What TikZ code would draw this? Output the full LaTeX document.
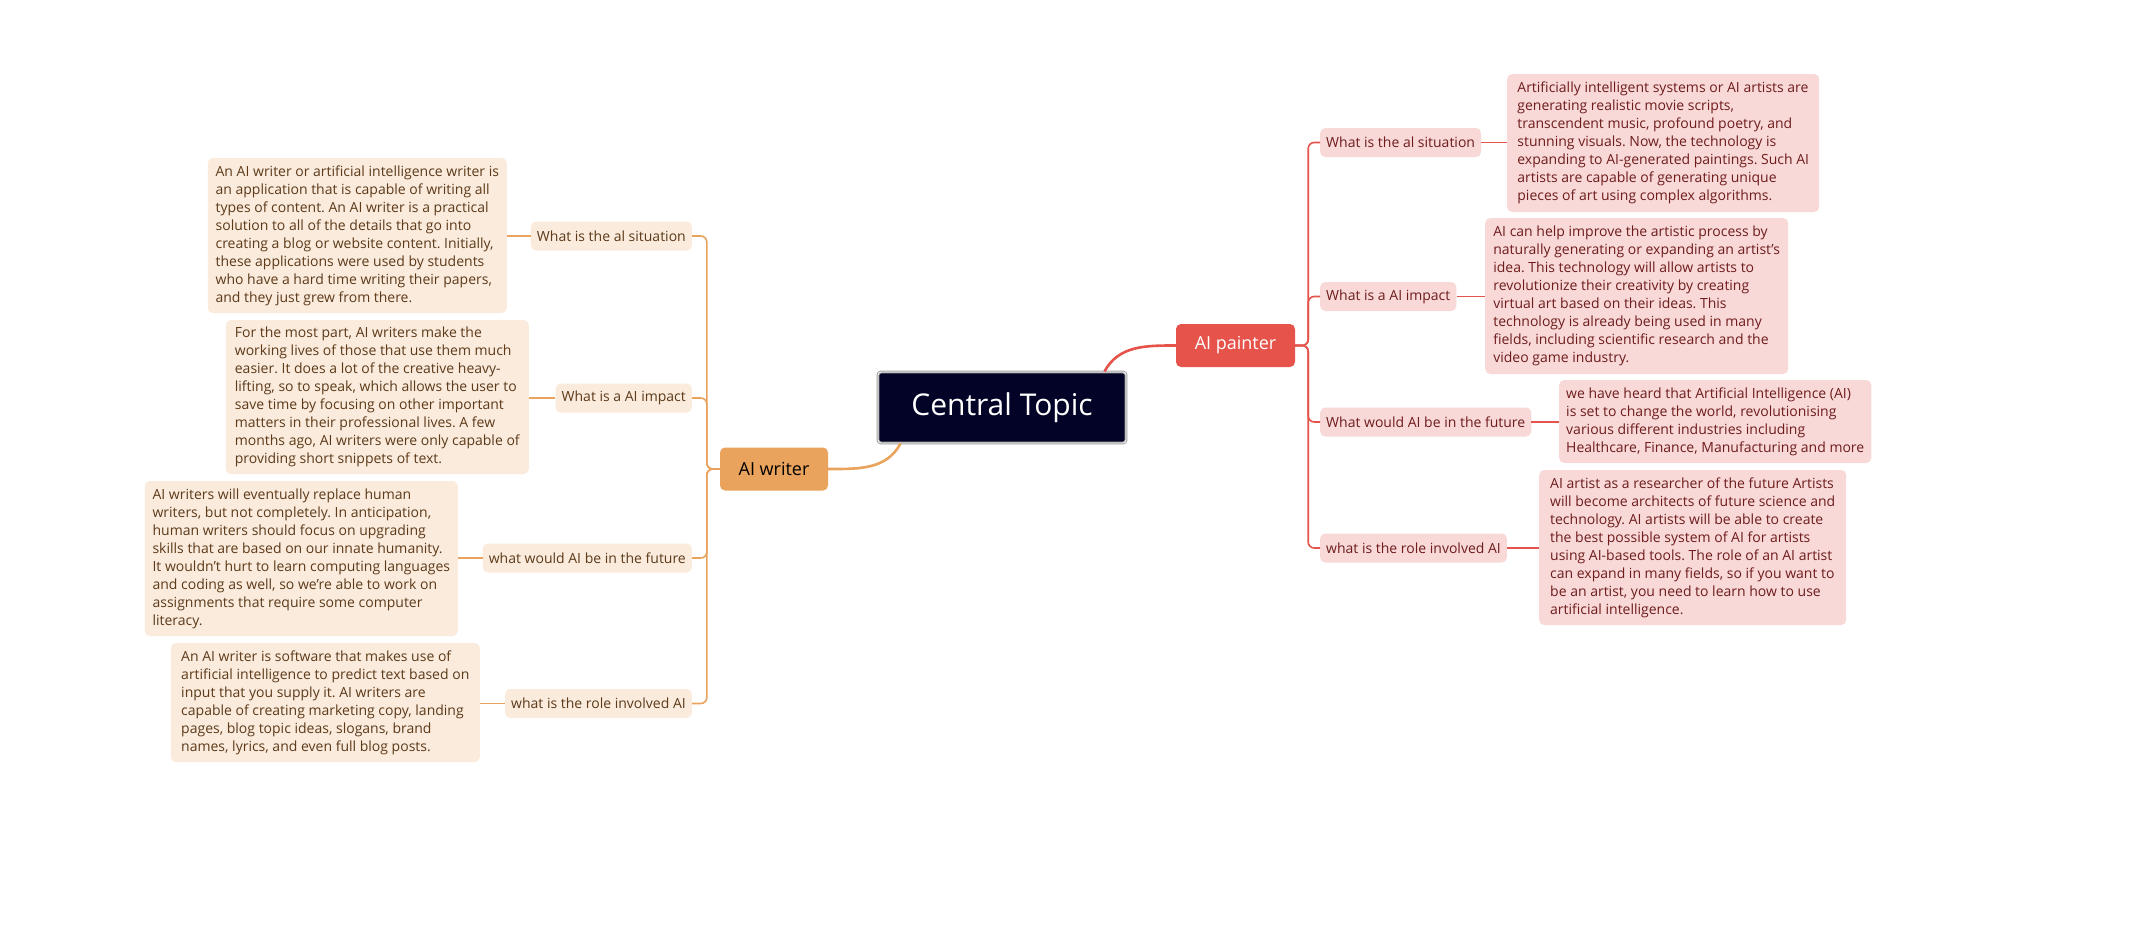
\documentclass[tikz,border=0pt]{standalone}
\usepackage{fontspec}
\setmainfont{Open Sans}
\frenchspacing
\usetikzlibrary{calc}
\definecolor{navy}{HTML}{020326}
\definecolor{orangeM}{HTML}{EAA35C}
\definecolor{redM}{HTML}{E5534B}
\definecolor{lfill}{HTML}{FBEBDC}
\definecolor{rfill}{HTML}{F8D9D8}
\definecolor{ltext}{HTML}{5C3A1A}
\definecolor{rtext}{HTML}{6E1C1C}
\tikzset{
  lsub/.style={fill=lfill, text=ltext, rounded corners=5pt, inner xsep=6pt, inner ysep=0pt, minimum height=29pt, anchor=east, font=\fontsize{14}{17}\selectfont},
  rsub/.style={fill=rfill, text=rtext, rounded corners=5pt, inner xsep=6pt, inner ysep=0pt, minimum height=29pt, anchor=west, font=\fontsize{14}{17}\selectfont},
  ltxt/.style={fill=lfill, text=ltext, rounded corners=5pt, align=left, inner xsep=7pt, inner ysep=5pt, anchor=east, font=\fontsize{14}{18}\selectfont},
  rtxt/.style={fill=rfill, text=rtext, rounded corners=5pt, align=left, inner xsep=7pt, inner ysep=5pt, anchor=west, font=\fontsize{14}{18}\selectfont},
  lconn/.style={draw=orangeM, line width=1.6pt, rounded corners=6pt},
  rconn/.style={draw=redM, line width=1.6pt, rounded corners=6pt},
  mainconn/.style={line width=2.6pt},
}
\begin{document}
\begin{tikzpicture}[x=1pt,y=-1pt]
\useasboundingbox (0,0) rectangle (2150,926);
\fill[white] (0,0) rectangle (2150,926);

% central
\node[fill=navy, draw=gray!75, double=white, double distance=0.8pt, line width=1pt, rounded corners=3pt,
      minimum width=248pt, minimum height=71pt, text=white, font=\fontsize{30}{36}\selectfont] (ct) at (1002,407.5) {Central Topic};

% main branches
\node[fill=redM, rounded corners=5pt, minimum width=119pt, minimum height=43pt, text=white, font=\fontsize{18}{22}\selectfont] (aip) at (1235.5,345.5) {AI painter};
\node[fill=orangeM, rounded corners=5pt, minimum width=108pt, minimum height=43pt, text=black, font=\fontsize{18}{22}\selectfont] (aiw) at (774,469) {AI writer};

\draw[redM, mainconn] ([xshift=-22pt]ct.north east) to[out=62, in=180] (aip.west);
\draw[orangeM, mainconn] ([xshift=23pt]ct.south west) to[out=242, in=0] (aiw.east);

% left subtopics
\node[lsub] (l1) at (692,236) {What is the al situation};
\node[lsub] (l2) at (692,398) {What is a AI impact};
\node[lsub] (l3) at (692,558) {what would AI be in the future};
\node[lsub] (l4) at (692,703.5) {what is the role involved AI};

% right subtopics
\node[rsub] (r1) at (1320,142.5) {What is the al situation};
\node[rsub] (r2) at (1320,296.5) {What is a AI impact};
\node[rsub] (r3) at (1320,422) {What would AI be in the future};
\node[rsub] (r4) at (1320,548) {what is the role involved AI};

% left texts
\node[ltxt, minimum width=299pt, minimum height=155pt] (t1) at (507,235.5) {An AI writer or artificial intelligence writer is\\
an application that is capable of writing all\\
types of content. An AI writer is a practical\\
solution to all of the details that go into\\
creating a blog or website content. Initially,\\
these applications were used by students\\
who have a hard time writing their papers,\\
and they just grew from there.};
\node[ltxt, minimum width=303pt, minimum height=154pt] (t2) at (529,397) {For the most part, AI writers make the\\
working lives of those that use them much\\
easier. It does a lot of the creative heavy-\\
lifting, so to speak, which allows the user to\\
save time by focusing on other important\\
matters in their professional lives. A few\\
months ago, AI writers were only capable of\\
providing short snippets of text.};
\node[ltxt, minimum width=313pt, minimum height=155pt] (t3) at (458,558.5) {AI writers will eventually replace human\\
writers, but not completely. In anticipation,\\
human writers should focus on upgrading\\
skills that are based on our innate humanity.\\
It wouldn't hurt to learn computing languages\\
and coding as well, so we're able to work on\\
assignments that require some computer\\
literacy.};
\node[ltxt, minimum width=309pt, minimum height=119pt] (t4) at (480,702.5) {An AI writer is software that makes use of\\
artificial intelligence to predict text based on\\
input that you supply it. AI writers are\\
capable of creating marketing copy, landing\\
pages, blog topic ideas, slogans, brand\\
names, lyrics, and even full blog posts.};

% right texts
\node[rtxt, minimum width=312pt, minimum height=138pt] (t5) at (1507,143) {Artificially intelligent systems or AI artists are\\
generating realistic movie scripts,\\
transcendent music, profound poetry, and\\
stunning visuals. Now, the technology is\\
expanding to AI-generated paintings. Such AI\\
artists are capable of generating unique\\
pieces of art using complex algorithms.};
\node[rtxt, minimum width=303pt, minimum height=156pt] (t6) at (1485,296) {AI can help improve the artistic process by\\
naturally generating or expanding an artist's\\
idea. This technology will allow artists to\\
revolutionize their creativity by creating\\
virtual art based on their ideas. This\\
technology is already being used in many\\
fields, including scientific research and the\\
video game industry.};
\node[rtxt, minimum width=309pt, minimum height=83pt] (t7) at (1559,421.5) {we have heard that Artificial Intelligence (AI)\\
is set to change the world, revolutionising\\
various different industries including\\
Healthcare, Finance, Manufacturing and more};
\node[rtxt, minimum width=307pt, minimum height=155pt] (t8) at (1539,547.5) {AI artist as a researcher of the future Artists\\
will become architects of future science and\\
technology. AI artists will be able to create\\
the best possible system of AI for artists\\
using AI-based tools. The role of an AI artist\\
can expand in many fields, so if you want to\\
be an artist, you need to learn how to use\\
artificial intelligence.};

% spines
\foreach \s in {l1,l2,l3,l4}{
  \draw[lconn] (aiw.west) -- ++(-13pt,0pt) |- (\s.east);
}
\foreach \s in {r1,r2,r3,r4}{
  \draw[rconn] (aip.east) -- ++(13pt,0pt) |- (\s.west);
}

% sub to text
\draw[lconn] (l1.west) -- (l1.west -| t1.east);
\draw[lconn] (l2.west) -- (l2.west -| t2.east);
\draw[lconn] (l3.west) -- (l3.west -| t3.east);
\draw[lconn] (l4.west) -- (l4.west -| t4.east);
\draw[rconn] (r1.east) -- (r1.east -| t5.west);
\draw[rconn] (r2.east) -- (r2.east -| t6.west);
\draw[rconn] (r3.east) -- (r3.east -| t7.west);
\draw[rconn] (r4.east) -- (r4.east -| t8.west);
\end{tikzpicture}
\end{document}
